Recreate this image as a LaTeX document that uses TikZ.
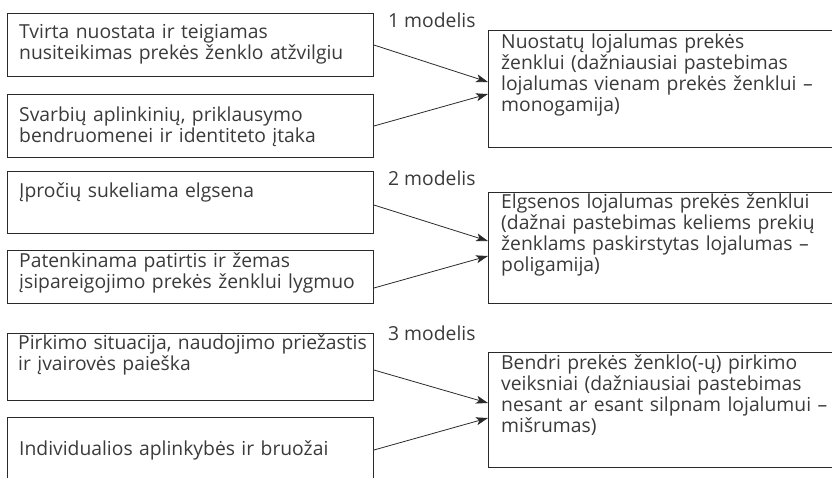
\documentclass[tikz,border=0pt]{standalone}
\usepackage{fontspec}
\setmainfont{Open Sans}
\usetikzlibrary{arrows.meta}
\definecolor{ink}{HTML}{3A3A3A}
\definecolor{frame}{HTML}{2A2A2A}
\tikzset{
  box/.style={draw=frame, line width=0.9pt, anchor=north west, inner sep=0pt},
  lbox/.style={box, minimum width=366pt},
  rbox/.style={box, minimum width=380pt},
  txt/.style={anchor=base west, inner sep=0pt, text width=360pt, align=left,
    font=\fontsize{19.3}{21}\selectfont, text=ink},
  lbl/.style={anchor=base west, inner sep=0pt, font=\fontsize{19.3}{21}\selectfont, text=ink},
  arr/.style={draw=frame, line width=0.8pt, -{Stealth[length=12pt,width=8pt,inset=3pt]}}
}
\begin{document}
\begin{tikzpicture}[x=1pt,y=-1pt]
\useasboundingbox (0,0) rectangle (832,477);
\clip (0,0) rectangle (832,477);

% factor boxes, left column
\node[lbox, minimum height=63pt] (b1) at (7,13) {};
\node[lbox, minimum height=63pt] (b2) at (7,94) {};
\node[lbox, minimum height=62pt] (b3) at (7,171) {};
\node[lbox, minimum height=53pt] (b4) at (7,250) {};
\node[lbox, minimum height=67pt] (b5) at (7,333) {};
\node[lbox, minimum height=90pt] (b6) at (7,417) {};

% loyalty boxes, right column
\node[rbox, minimum height=117pt] (r1) at (488,30) {};
\node[rbox, minimum height=111pt] (r2) at (488,192) {};
\node[rbox, minimum height=115pt] (r3) at (488,352) {};

% texts of the left boxes
\node[txt] (tb1) at (19,38) {Tvirta nuostata ir teigiamas\\nusiteikimas prekės ženklo atžvilgiu};
\node[txt] (tb2) at (19,121) {Svarbių aplinkinių, priklausymo\\bendruomenei ir identiteto įtaka};
\node[txt] (tb3) at (19,197) {Įpročių sukeliama elgsena};
\node[txt] (tb4) at (19,267) {Patenkinama patirtis ir žemas\\įsipareigojimo prekės ženklui lygmuo};
\node[txt] (tb5) at (18,349) {Pirkimo situacija, naudojimo priežastis\\ir įvairovės paieška};
\node[txt] (tb6) at (19,455) {Individualios aplinkybės ir bruožai};

% texts of the right boxes
\node[txt] (tr1) at (501,48) {Nuostatų lojalumas prekės\\ženklui (dažniausiai pastebimas\\lojalumas vienam prekės ženklui –\\monogamija)};
\node[txt] (tr2) at (501,208) {Elgsenos lojalumas prekės ženklui\\(dažnai pastebimas keliems prekių\\ženklams paskirstytas lojalumas –\\poligamija)};
\node[txt] (tr3) at (501,369) {Bendri prekės ženklo(-ų) pirkimo\\veiksniai (dažniausiai pastebimas\\nesant ar esant silpnam lojalumui –\\mišrumas)};

% model captions
\node[lbl] (m1) at (388,27) {1 modelis};
\node[lbl] (m2) at (388,185) {2 modelis};
\node[lbl] (m3) at (388,340) {3 modelis};

% connectors
\draw[arr] ([yshift=-32pt]b1.north east) -- ([yshift=-52pt]r1.north west);
\draw[arr] ([yshift=-32pt]b2.north east) -- ([yshift=-64pt]r1.north west);
\draw[arr] ([yshift=-34pt]b3.north east) -- ([yshift=-49pt]r2.north west);
\draw[arr] ([yshift=-38pt]b4.north east) -- ([yshift=-64pt]r2.north west);
\draw[arr] ([yshift=-37pt]b5.north east) -- ([yshift=-51pt]r3.north west);
\draw[arr] ([yshift=-33pt]b6.north east) -- ([yshift=-66pt]r3.north west);
\end{tikzpicture}
\end{document}
